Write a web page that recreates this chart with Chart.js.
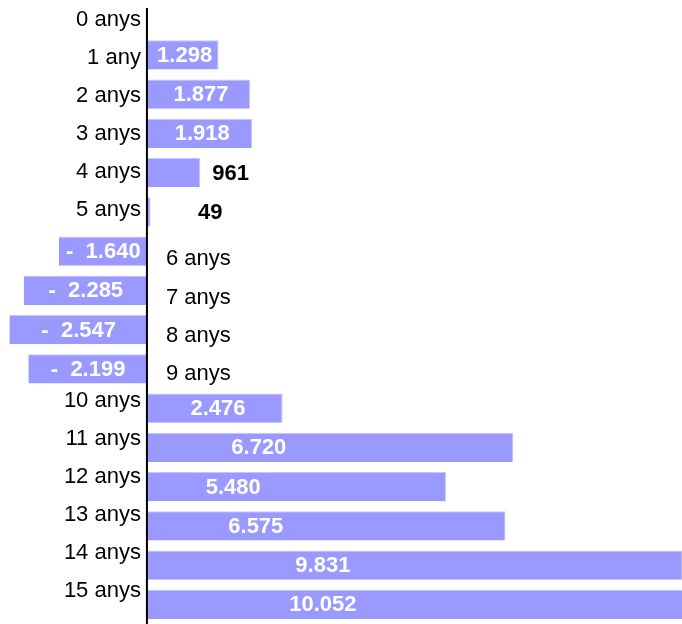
<!DOCTYPE html>
<html lang="ca">
  <head>
    <meta charset="UTF-8" />
    <title>Anys</title>
    <script src="https://cdn.jsdelivr.net/npm/chart.js"></script>
    <style>
      body {
        margin: 0;
        padding: 0;
        background: #fff;
        overflow: hidden;
      }
      .wrap {
        width: 682px;
        height: 628px;
        margin-top: -4px;
        position: relative;
      }
    </style>
  </head>
  <body>
    <div class="wrap"><canvas id="chart"></canvas></div>

    <script>
      const categories = [
        "0 anys", "1 any", "2 anys", "3 anys", "4 anys", "5 anys", "6 anys", "7 anys",
        "8 anys", "9 anys", "10 anys", "11 anys", "12 anys", "13 anys", "14 anys", "15 anys",
      ];
      const values = [
        0, 1298, 1877, 1918, 961, 49, -1640, -2285,
        -2547, -2199, 2476, 6720, 5480, 6575, 9831, 10052,
      ];
      const xMin = -2720;
      const xMax = 9820;

      function fmt(v) {
        const s = String(Math.abs(v)).replace(/\B(?=(\d{3})+(?!\d))/g, ".");
        return v < 0 ? "-  " + s : s;
      }

      // category names + value labels, drawn after the bars
      const labelsPlugin = {
        id: "labels",
        afterDatasetsDraw(chart) {
          const ctx = chart.ctx;
          const x = chart.scales.x;
          const y = chart.scales.y;
          const zero = x.getPixelForValue(0);
          const area = chart.chartArea;

          ctx.save();
          // axis line (page is shifted up 4px)
          ctx.strokeStyle = "#000";
          ctx.lineWidth = 2;
          ctx.beginPath();
          ctx.moveTo(zero - 1, 12);
          ctx.lineTo(zero - 1, area.bottom);
          ctx.stroke();

          ctx.textBaseline = "middle";
          categories.forEach((name, i) => {
            const v = values[i];
            const yc = y.getPixelForValue(i);
            const ly = yc + 4 - 1.13 * i;
            ctx.font = "22px 'Liberation Sans', Arial, sans-serif";
            ctx.fillStyle = "#000";
            if (v < 0) {
              ctx.textAlign = "left";
              ctx.fillText(name, zero + 18, ly + 11);
            } else {
              ctx.textAlign = "right";
              ctx.fillText(name, zero - 7, ly);
            }

            if (v === 0) return;
            const end = Math.min(x.getPixelForValue(v), area.right);
            const len = Math.abs(end - zero);
            ctx.font = "bold 22px 'Liberation Sans', Arial, sans-serif";
            if (v < 0) {
              ctx.fillStyle = "#fff";
              ctx.textAlign = "center";
              ctx.fillText(fmt(v), (zero + end) / 2, yc + 1);
            } else if (len < 65) {
              ctx.fillStyle = "#000";
              ctx.textAlign = "left";
              ctx.fillText(fmt(v), Math.max(end + 12, zero + 50), yc + 1);
            } else {
              const off = len < 200 ? len * 0.52 : len * 0.38 - 28;
              ctx.fillStyle = "#fff";
              ctx.textAlign = "center";
              ctx.fillText(fmt(v), zero + off, yc + 1);
            }
          });
          ctx.restore();
        },
      };

      new Chart(document.getElementById("chart"), {
        type: "bar",
        data: {
          labels: categories,
          datasets: [
            {
              data: values,
              backgroundColor: "#9999ff",
              borderColor: "#c4c4ff",
              borderWidth: { top: 1, right: 1, bottom: 0, left: 0 },
              borderSkipped: false,
              barPercentage: 0.74,
              categoryPercentage: 1,
            },
          ],
        },
        options: {
          indexAxis: "y",
          responsive: true,
          maintainAspectRatio: false,
          animation: false,
          layout: { padding: 0 },
          plugins: {
            legend: { display: false },
            tooltip: { enabled: false },
          },
          scales: {
            x: { display: false, min: xMin, max: xMax },
            y: { display: false },
          },
        },
        plugins: [labelsPlugin],
      });
    </script>
  </body>
</html>
